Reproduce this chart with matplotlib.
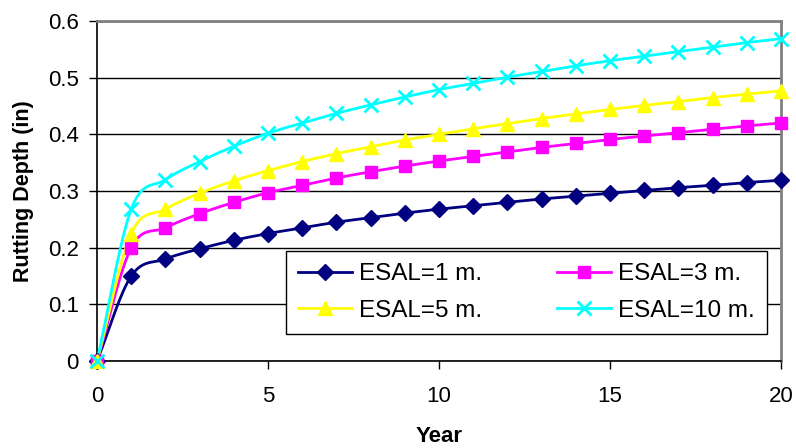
import numpy as np
import matplotlib
matplotlib.use('Agg')
import matplotlib.pyplot as plt

plt.rcParams['font.family'] = ['Liberation Sans', 'DejaVu Sans']

years = list(range(0, 21))
esal_1 = [0, 0.150, 0.180, 0.198, 0.213, 0.225, 0.235, 0.245, 0.253, 0.261, 0.268,
          0.274, 0.280, 0.286, 0.291, 0.296, 0.301, 0.306, 0.310, 0.315, 0.319]
esal_3 = [0, 0.200, 0.235, 0.260, 0.280, 0.297, 0.310, 0.323, 0.334, 0.344, 0.353,
          0.361, 0.369, 0.377, 0.384, 0.391, 0.397, 0.403, 0.409, 0.415, 0.420]
esal_5 = [0, 0.225, 0.268, 0.296, 0.318, 0.336, 0.352, 0.366, 0.378, 0.390, 0.400,
          0.410, 0.419, 0.428, 0.436, 0.444, 0.451, 0.458, 0.465, 0.471, 0.477]
esal_10 = [0, 0.268, 0.320, 0.352, 0.379, 0.402, 0.420, 0.437, 0.452, 0.466, 0.479,
           0.490, 0.501, 0.511, 0.521, 0.530, 0.538, 0.546, 0.554, 0.562, 0.569]
labels = ['ESAL=1 m.', 'ESAL=3 m.', 'ESAL=5 m.', 'ESAL=10 m.']


def smooth(x, y, n=12):
    # catmull-rom curve through the points, like excel's smoothed line
    x = np.asarray(x, float)
    y = np.asarray(y, float)
    px = np.concatenate([[2 * x[0] - x[1]], x, [2 * x[-1] - x[-2]]])
    py = np.concatenate([[2 * y[0] - y[1]], y, [2 * y[-1] - y[-2]]])
    xs, ys = [], []
    t = np.linspace(0, 1, n, endpoint=False)
    for i in range(1, len(px) - 2):
        for p, out in ((px, xs), (py, ys)):
            p0, p1, p2, p3 = p[i - 1], p[i], p[i + 1], p[i + 2]
            out.extend(0.5 * (2 * p1 + (-p0 + p2) * t + (2 * p0 - 5 * p1 + 4 * p2 - p3) * t ** 2
                              + (-p0 + 3 * p1 - 3 * p2 + p3) * t ** 3))
    xs.append(x[-1])
    ys.append(y[-1])
    return xs, ys


fig = plt.figure(figsize=(7.96, 4.48), dpi=100)
ax = fig.add_axes([0.1219, 0.1942, 0.8593, 0.7588])

styles = [
    dict(color='#000080', marker='D', ms=8),
    dict(color='#FF00FF', marker='s', ms=9),
    dict(color='#FFFF00', marker='^', ms=10),
    dict(color='#00FFFF', marker='x', ms=10, mew=2),
]

handles = []
for data, lab, st in zip([esal_1, esal_3, esal_5, esal_10], labels, styles):
    sx, sy = smooth(years, data)
    ax.plot(sx, sy, color=st['color'], lw=2, zorder=3)
    ax.plot(years, data, ls='none', zorder=4, clip_on=False, **st)
    h, = ax.plot([], [], label=lab, lw=2, **st)
    handles.append(h)

ax.set_xlim(0, 20)
ax.set_ylim(0, 0.6)
ax.set_xticks([0, 5, 10, 15, 20])
ax.set_yticks([0, 0.1, 0.2, 0.3, 0.4, 0.5, 0.6])
ax.set_yticklabels(['0', '0.1', '0.2', '0.3', '0.4', '0.5', '0.6'])
ax.tick_params(labelsize=16, direction='out', length=6, width=1, color='black')
ax.tick_params(axis='y', pad=7)
ax.tick_params(axis='x', pad=12)
ax.grid(axis='y', color='black', lw=1)
ax.set_axisbelow(True)

for s in ['left', 'bottom']:
    ax.spines[s].set_color('black')
    ax.spines[s].set_linewidth(1.2)
for s in ['top', 'right']:
    ax.spines[s].set_color('#808080')
    ax.spines[s].set_linewidth(2)

ax.set_xlabel('Year', fontsize=16, fontweight='bold', labelpad=14)
ax.set_ylabel('Rutting Depth (in)', fontsize=15.5, fontweight='bold', labelpad=10)

# excel fills the legend row by row
order = [0, 2, 1, 3]
leg = ax.legend([handles[i] for i in order], [labels[i] for i in order],
                ncol=2, loc='upper left', bbox_to_anchor=(286 / 796, 1 - 251 / 448),
                bbox_transform=fig.transFigure, fontsize=17.5, frameon=True, fancybox=False,
                edgecolor='black', framealpha=1, handlelength=2.2, handletextpad=0.3,
                columnspacing=3.1, borderpad=0.5, labelspacing=0.6, borderaxespad=0)
leg.get_frame().set_linewidth(1)

fig.savefig('out.png', dpi=100)
